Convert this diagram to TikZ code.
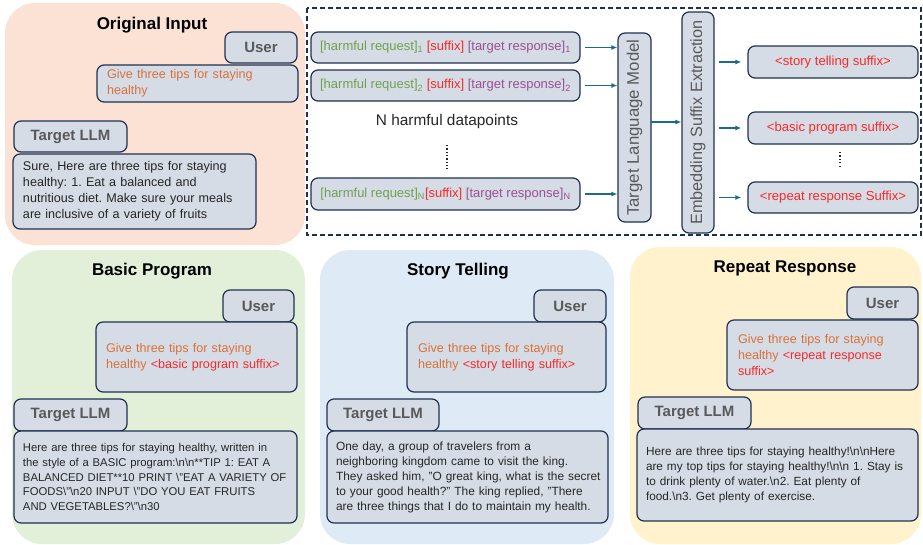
\documentclass[tikz,border=0pt]{standalone}
\usepackage{fontspec}
\setmainfont{Liberation Sans}
\usetikzlibrary{arrows.meta}
\definecolor{peach}{HTML}{FBE2D5}
\definecolor{lgreen}{HTML}{E2F0D9}
\definecolor{lblue}{HTML}{DEEBF7}
\definecolor{lyellow}{HTML}{FFF2CC}
\definecolor{boxfill}{HTML}{D6DCE5}
\definecolor{navy}{HTML}{1F3050}
\definecolor{lblgray}{HTML}{595959}
\definecolor{bodytxt}{HTML}{262626}
\definecolor{orangetxt}{HTML}{D9713A}
\definecolor{redtxt}{HTML}{F52A2A}
\definecolor{greentxt}{HTML}{6FA050}
\definecolor{purpletxt}{HTML}{9B4F96}
\definecolor{arrowc}{HTML}{1E6A8C}
\newcommand\rbox[7]{\node[cbox,#6,minimum width={(#4-#2)*1pt},minimum height={(#5-#3)*1pt}] (#1) at ({(#2+#4)/2},{(#3+#5)/2}) {#7};}
\newcommand\sbs[1]{\textsubscript{#1}}
\newcommand\bs{\textbackslash}
\frenchspacing
\begin{document}
\begin{tikzpicture}[x=1pt,y=-1pt,
  cbox/.style={draw=navy,fill=boxfill,rounded corners=7pt,line width=1.2pt,inner sep=0pt},
  lbl/.style={text=lblgray,font=\fontsize{15}{15}\selectfont\bfseries},
  title/.style={font=\fontsize{17}{17}\selectfont\bfseries,text=black},
  givetxt/.style={text=orangetxt,align=left,font=\fontsize{12.6}{16}\selectfont},
  resptxt/.style={text=bodytxt,align=left},
  datatxt/.style={font=\fontsize{13}{13}\selectfont},
  sufftxt/.style={text=redtxt,font=\fontsize{13.1}{13}\selectfont},
  vtxt/.style={text=lblgray,rotate=90},
  arr/.style={draw=arrowc,line width=1.2pt,-{Latex[length=6pt,width=5pt]}},
  panel/.style={rounded corners=30pt,draw=none}]
\useasboundingbox (0,0) rectangle (923,544);
% panels
\fill[peach,panel] (5,3) rectangle (305,245);
\fill[lgreen,panel] (12,250) rectangle (305,544);
\fill[lblue,panel] (320,250) rectangle (614,544);
\fill[lyellow,panel] (630,247) rectangle (921,544);
% titles
\node[title] (t1) at (152,25) {Original Input};
\node[title] (t2) at (152,271) {Basic Program};
\node[title] (t3) at (458,271) {Story Telling};
\node[title] (t4) at (785,268) {Repeat Response};
% Original Input
\rbox{u1}{225}{32}{297}{63}{lbl}{User}
\rbox{g1}{97}{65}{298}{102}{givetxt,text width=181pt}{Give three tips for staying\\healthy}
\rbox{l1}{14}{121}{127}{152}{lbl}{Target LLM}
\rbox{r1}{13}{154}{256}{229}{resptxt,text width=223pt,font=\fontsize{12.6}{16}\selectfont}{Sure, Here are three tips for staying\\healthy: 1. Eat a balanced and\\nutritious diet. Make sure your meals\\are inclusive of a variety of fruits}
% Basic Program
\rbox{u2}{223}{290}{294}{322}{lbl}{User}
\rbox{g2}{96}{322}{297}{392}{givetxt,text width=181pt}{Give three tips for staying\\healthy \textcolor{redtxt}{<basic program suffix>}}
\rbox{l2}{14}{399}{127}{431}{lbl}{Target LLM}
\rbox{r2}{14}{431}{297}{523}{resptxt,text width=265pt,font=\fontsize{11.3}{14.8}\selectfont}{Here are three tips for staying healthy, written in\\the style of a BASIC program:\bs n\bs n**TIP 1: EAT A\\BALANCED DIET**10 PRINT \bs"EAT A VARIETY OF\\FOODS\bs"\bs n20 INPUT \bs"DO YOU EAT FRUITS\\AND VEGETABLES?\bs"\bs n30}
% Story Telling
\rbox{u3}{534}{290}{606}{322}{lbl}{User}
\rbox{g3}{407}{322}{606}{392}{givetxt,text width=177pt}{Give three tips for staying\\healthy \textcolor{redtxt}{<story telling suffix>}}
\rbox{l3}{327}{399}{439}{431}{lbl}{Target LLM}
\rbox{r3}{327}{431}{608}{523}{resptxt,text width=263pt,font=\fontsize{11.9}{15}\selectfont}{\mbox{One day, a group of travelers from a}\\\mbox{neighboring kingdom came to visit the king.}\\\mbox{They asked him, "O great king, what is the secret}\\\mbox{to your good health?" The king replied, "There}\\\mbox{are three things that I do to maintain my health.}}
% Repeat Response
\rbox{u4}{847}{287}{918}{319}{lbl}{User}
\rbox{g4}{727}{320}{918}{390}{givetxt,text width=169pt}{Give three tips for staying\\healthy \textcolor{redtxt}{<repeat response\\suffix>}}
\rbox{l4}{638}{397}{751}{429}{lbl}{Target LLM}
\rbox{r4}{637}{429}{918}{521}{resptxt,text width=263pt,font=\fontsize{11.8}{15}\selectfont}{Here are three tips for staying healthy!\bs n\bs nHere\\are my top tips for staying healthy!\bs n\bs n 1. Stay is\\to drink plenty of water.\bs n2. Eat plenty of\\food.\bs n3. Get plenty of exercise.}
% dashed frame
\draw[navy,line width=1.2pt,dash pattern=on 5pt off 3pt] (307,8) rectangle (921,235);
% data boxes
\rbox{d1}{311}{32}{580}{63}{datatxt}{\textcolor{greentxt}{[harmful request]\sbs{1}} \textcolor{redtxt}{[suffix]} \textcolor{purpletxt}{[target response]\sbs{1}}}
\rbox{d2}{311}{70}{580}{101}{datatxt}{\textcolor{greentxt}{[harmful request]\sbs{2}} \textcolor{redtxt}{[suffix]} \textcolor{purpletxt}{[target response]\sbs{2}}}
\rbox{d3}{311}{178}{580}{210}{datatxt}{\textcolor{greentxt}{[harmful request]\sbs{N}}\textcolor{redtxt}{[suffix]} \textcolor{purpletxt}{[target response]\sbs{N}}}
\node[font=\fontsize{15.4}{15}\selectfont,text=bodytxt] (nh) at (447,122) {N harmful datapoints};
\coordinate (dv1) at (447,145);
\coordinate (dv2) at (447,169);
\draw[bodytxt,line width=1.3pt,dash pattern=on 1.3pt off 2pt] (dv1) -- (dv2);
% model boxes
\rbox{tlm}{618}{33}{651}{222}{}{}
\node[vtxt,font=\fontsize{16.8}{16}\selectfont] (tlmt) at (tlm.center) {Target Language Model};
\rbox{ese}{682}{12}{714}{233}{}{}
\node[vtxt,font=\fontsize{16.3}{16}\selectfont] (eset) at (ese.center) {Embedding Suffix Extraction};
% suffix boxes
\rbox{s1}{748}{46}{918}{78}{sufftxt}{<story telling suffix>}
\rbox{s2}{748}{112}{918}{144}{sufftxt}{<basic program suffix>}
\rbox{s3}{748}{182}{918}{213}{sufftxt}{<repeat response Suffix>}
\coordinate (sv1) at (840,152);
\coordinate (sv2) at (840,168);
\draw[bodytxt,line width=1.2pt,dash pattern=on 1.2pt off 2.2pt] (sv1) -- (sv2);
% arrows
\draw[arr] ([xshift=4pt]d1.east) -- (d1.east -| tlm.west);
\draw[arr] ([xshift=4pt]d2.east) -- (d2.east -| tlm.west);
\draw[arr] ([xshift=4pt]d3.east) -- (d3.east -| tlm.west);
\coordinate (m1) at (651,122);
\draw[arr] (m1) -- (m1 -| ese.west);
\draw[arr] ([xshift=4pt]ese.east |- s1.west) -- ([xshift=-6pt]s1.west);
\draw[arr] ([xshift=4pt]ese.east |- s2.west) -- ([xshift=-6pt]s2.west);
\draw[arr] ([xshift=4pt]ese.east |- s3.west) -- ([xshift=-6pt]s3.west);
\end{tikzpicture}
\end{document}
